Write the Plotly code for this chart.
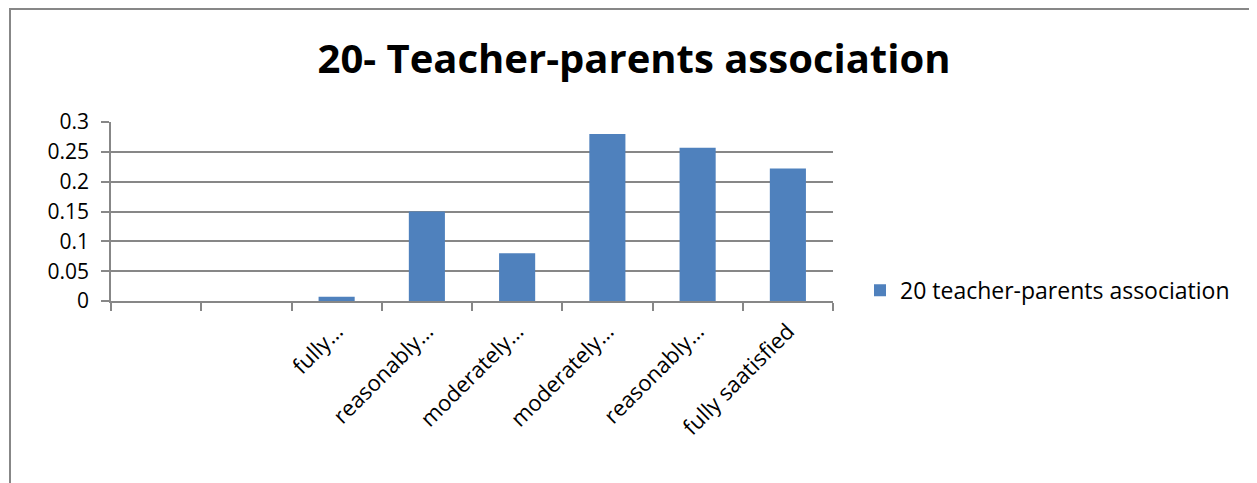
import plotly.graph_objects as go

# categories (first two have blank labels in the source chart)
categories = [
    "\u200b",
    "\u200b\u200b",
    "fully…",
    "reasonably…",
    "moderately…",
    "moderately…\u200b",
    "reasonably…\u200b",
    "fully saatisfied",
]
values = [0, 0, 0.007, 0.15, 0.08, 0.28, 0.257, 0.222]
series_name = "20 teacher-parents association"
y_ticks = [0, 0.05, 0.1, 0.15, 0.2, 0.25, 0.3]
y_ticklabels = ["0", "0.05", "0.1", "0.15", "0.2", "0.25", "0.3"]

BAR_COLOR = "#4F81BD"
GRID_COLOR = "#878787"
FONT = "Open Sans"

# page body has an 8px margin, so the figure is a bit smaller than the window
W, H = 1249, 475
L, T, PW, PH = 103, 114, 722, 179

fig = go.Figure()
fig.add_trace(
    go.Bar(
        x=categories,
        y=values,
        name=series_name,
        marker=dict(color=BAR_COLOR, line=dict(width=0)),
        showlegend=True,
    )
)

fig.update_layout(
    width=W,
    height=H,
    paper_bgcolor="white",
    plot_bgcolor="white",
    bargap=0.6,
    font=dict(family=FONT, size=21, color="black"),
    margin=dict(l=L, r=W - L - PW, t=T, b=H - T - PH, pad=0),
    title=dict(
        text="<b>20- Teacher-parents association</b>",
        x=626 / W,
        xanchor="center",
        y=1 - 51 / H,
        yanchor="middle",
        font=dict(family=FONT, size=40, color="black"),
    ),
    xaxis=dict(
        type="category",
        tickangle=-45,
        ticks="outside",
        tickson="boundaries",
        ticklen=8,
        tickcolor=GRID_COLOR,
        tickwidth=1.5,
        showline=True,
        linecolor=GRID_COLOR,
        linewidth=1.5,
        showgrid=False,
        ticklabelstandoff=7,
        tickfont=dict(family=FONT, size=22),
    ),
    yaxis=dict(
        range=[0, 0.3],
        tickmode="array",
        tickvals=y_ticks,
        ticktext=y_ticklabels,
        ticks="outside",
        ticklen=8,
        tickcolor=GRID_COLOR,
        tickwidth=1.5,
        showline=True,
        linecolor=GRID_COLOR,
        linewidth=1.5,
        showgrid=True,
        gridcolor=GRID_COLOR,
        gridwidth=1.5,
        zeroline=False,
        ticklabelstandoff=8,
        tickfont=dict(family=FONT, size=21),
    ),
    legend=dict(
        x=(860 - 111) / PW,
        xanchor="left",
        y=0.06,
        yanchor="middle",
        font=dict(family=FONT, size=23),
        bgcolor="rgba(0,0,0,0)",
    ),
    shapes=[
        dict(
            type="rect",
            xref="paper",
            yref="paper",
            x0=(10 - 111) / PW,
            x1=1.8,
            y0=-1.5,
            y1=(301 - 9) / PH,
            line=dict(color=GRID_COLOR, width=2),
            fillcolor="rgba(0,0,0,0)",
            layer="below",
        )
    ],
)

fig.write_html("out.html")
